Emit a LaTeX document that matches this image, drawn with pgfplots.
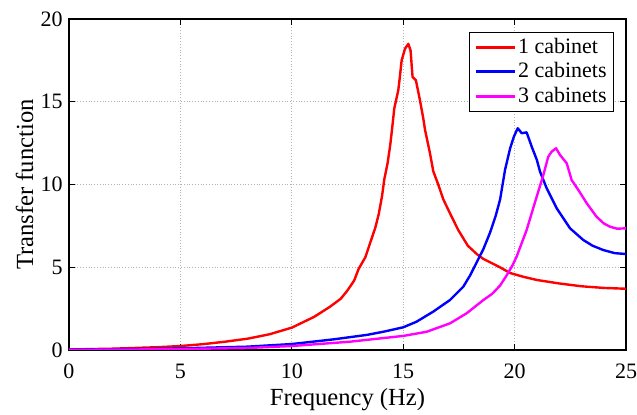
\documentclass[border=0pt]{standalone}
\usepackage{fontspec}
\setmainfont{Liberation Serif}
\usepackage{pgfplots}
\pgfplotsset{compat=1.18}
\definecolor{cone}{RGB}{255,0,0}
\definecolor{ctwo}{RGB}{0,0,255}
\definecolor{cthree}{RGB}{255,0,255}

\begin{document}
\begin{tikzpicture}
\begin{axis}[
    scale only axis,
    width=278.5pt, height=165.5pt,
    xmin=0, xmax=25, ymin=0, ymax=20,
    xtick={0,5,...,25}, ytick={0,5,...,20},
    tick align=inside,
    major tick length=2.8pt,
    xmajorgrids, ymajorgrids,
    grid style={densely dotted, gray!60, line width=0.5pt},
    axis line style={line width=0.6pt},
    tick style={black, line width=0.6pt},
    tick label style={font=\fontsize{11}{13}\selectfont},
    xticklabel style={yshift=-3.6pt},
    yticklabel style={xshift=0.3pt},
    /pgf/number format/assume math mode=true,
    label style={font=\fontsize{12.3}{14}\selectfont},
    xlabel={Frequency (Hz)},
    ylabel={Transfer function},
    xlabel style={at={(axis description cs:0.5,-0.168)}, anchor=base},
    ylabel style={at={(axis description cs:-0.0646,0.5)}, anchor=base},
    legend style={at={(0.978,0.961)}, anchor=north east,
        draw=black, line width=0.5pt, inner xsep=2.5pt, inner ysep=2pt,
        nodes={inner sep=0.8pt},
        font=\fontsize{11}{12}\selectfont,
        row sep=1.6pt, cells={anchor=west}},
    legend image code/.code={\draw[#1, line width=1.4pt] (0pt,0pt) -- (19.5pt,0pt);},
    every axis plot/.append style={line width=1.2pt, line join=round},
]
\addplot[cone] coordinates {
(0,0.03) (2,0.08) (4,0.17) (5,0.24) (6,0.35) (7,0.5) (8,0.68) (9,0.95)
(10,1.35) (11,2.0) (11.7,2.6) (12.2,3.1) (12.5,3.6) (12.8,4.2) (13.0,4.9)
(13.3,5.6) (13.5,6.4) (13.75,7.4) (13.9,8.2) (14.05,9.3) (14.15,10.3)
(14.3,11.3) (14.42,12.4) (14.52,13.6) (14.6,14.6) (14.78,15.7) (14.85,16.5)
(14.93,17.5) (15.08,18.2) (15.23,18.5) (15.33,18.1) (15.42,16.5) (15.57,16.3)
(15.75,15.1) (15.9,14.0) (15.98,13.3) (16.2,11.9) (16.35,10.8) (16.58,9.97)
(16.8,9.1) (17.1,8.26) (17.47,7.25) (17.9,6.3) (18.3,5.8) (18.6,5.5)
(19.34,5.0) (19.8,4.65) (20.4,4.42) (21.0,4.23) (22,4.02) (23,3.85)
(24,3.75) (25,3.7)
};
\addlegendentry{1 cabinet}
\addplot[ctwo] coordinates {
(0,0.02) (3,0.06) (5,0.1) (8,0.2) (10,0.36) (11.86,0.64) (13.36,0.91)
(14.1,1.1) (15.0,1.37) (15.6,1.71) (16.35,2.32) (17.1,3.02) (17.7,3.83)
(18.0,4.5) (18.3,5.3) (18.6,6.1) (18.9,7.1) (19.15,8.1) (19.35,9.1)
(19.57,10.88) (19.8,12.19) (19.97,12.9) (20.14,13.4) (20.32,13.1)
(20.54,13.15) (20.77,12.28) (21.0,11.48) (21.14,10.78) (21.44,9.77)
(21.89,8.56) (22.49,7.35) (23.08,6.65) (23.5,6.3) (23.98,6.04) (24.5,5.85)
(25,5.8)
};
\addlegendentry{2 cabinets}
\addplot[cthree] coordinates {
(0,0.01) (3,0.03) (5,0.06) (8,0.12) (10,0.24) (12.6,0.5) (15,0.85)
(16.05,1.1) (17.1,1.61) (17.85,2.22) (18.6,3.02) (19.0,3.4) (19.35,3.9)
(19.64,4.5) (19.9,5.1) (20.09,5.64) (20.54,7.25) (20.99,9.26) (21.29,10.57)
(21.51,11.68) (21.66,11.98) (21.86,12.19) (22.04,11.78) (22.34,11.28)
(22.56,10.27) (22.86,9.67) (23.24,8.86) (23.68,8.05) (24.0,7.65)
(24.28,7.45) (24.6,7.33) (25,7.35)
};
\addlegendentry{3 cabinets}
\end{axis}
\pgfresetboundingbox
\path (current axis.south west) ++(-34.5pt,-32.5pt) coordinate (bbsw)
      (current axis.north east) ++(5.5pt,9.5pt) coordinate (bbne);
\path[use as bounding box] (bbsw) rectangle (bbne);
\end{tikzpicture}
\end{document}
